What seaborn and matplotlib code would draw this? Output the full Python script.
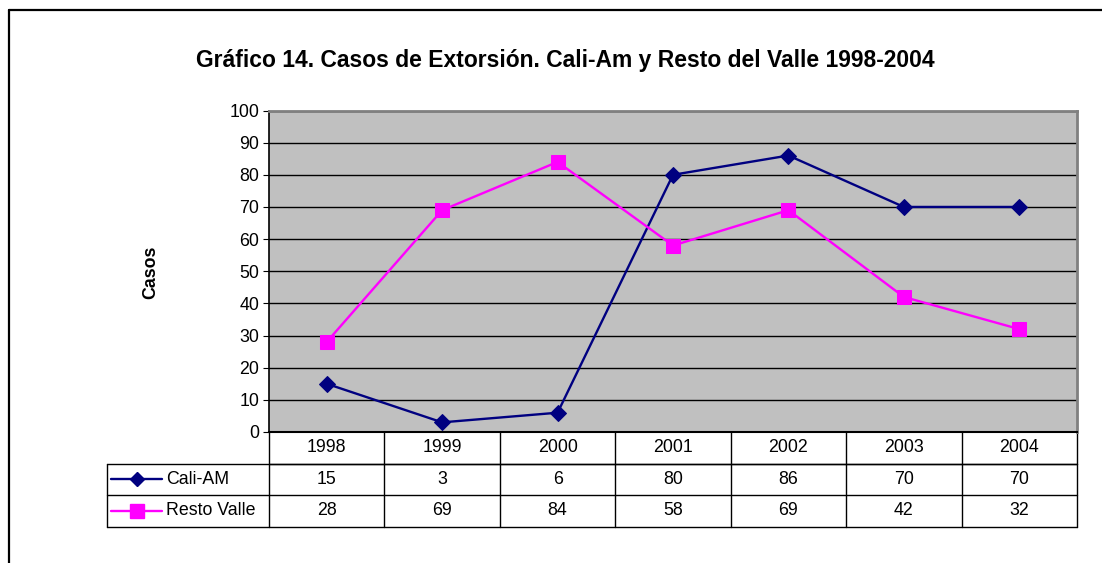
import matplotlib
matplotlib.use("Agg")
import matplotlib.pyplot as plt
import matplotlib.transforms as mtransforms
from matplotlib.lines import Line2D
import seaborn as sns
import pandas as pd

years = ["1998", "1999", "2000", "2001", "2002", "2003", "2004"]
cali_am = [15, 3, 6, 80, 86, 70, 70]
resto_valle = [28, 69, 84, 58, 69, 42, 32]
series_names = ["Cali-AM", "Resto Valle"]
title = "Gráfico 14. Casos de Extorsión. Cali-Am y Resto del Valle 1998-2004"
y_label = "Casos"

sns.set_theme(style="white")
plt.rcParams['font.family'] = ['Liberation Sans', 'DejaVu Sans']

W, H = 1102, 563
fig = plt.figure(figsize=(W / 100, H / 100), dpi=100)
fig.patch.set_facecolor("white")

FS = 12.8

# plot area in pixels
L, R, T, B = 269, 1077, 110.5, 432
ax = fig.add_axes([L / W, (H - B) / H, (R - L) / W, (B - T) / H])
ax.set_facecolor("#C0C0C0")

idx = list(range(len(years)))
df = pd.DataFrame({
    "x": idx * 2,
    "y": cali_am + resto_valle,
    "serie": [series_names[0]] * len(years) + [series_names[1]] * len(years),
})
colors = {series_names[0]: "#000080", series_names[1]: "#FF00FF"}
markers = {series_names[0]: "D", series_names[1]: "s"}
msize = {series_names[0]: 8, series_names[1]: 10.5}
for name in series_names:
    sub = df[df["serie"] == name]
    sns.lineplot(data=sub, x="x", y="y", ax=ax, color=colors[name], lw=1.7,
                 marker=markers[name], markersize=msize[name],
                 markeredgecolor=colors[name], markerfacecolor=colors[name],
                 legend=False, zorder=3)

ax.set_xlim(-0.5, len(years) - 0.5)
ax.set_ylim(0, 100)
ax.set_yticks(range(0, 101, 10))
ax.yaxis.grid(True, color="black", lw=1.0)
ax.set_axisbelow(True)
ax.set_xticks([])
ax.set_xlabel("")
ax.set_ylabel("")
ax.tick_params(axis="y", length=4, width=0.8, color="black", labelsize=FS,
               labelcolor="black", pad=3, left=True)
ax.spines["left"].set_color("black")
ax.spines["left"].set_linewidth(1.2)
ax.spines["bottom"].set_color("black")
ax.spines["bottom"].set_linewidth(1.5)
for s in ["top", "right"]:
    ax.spines[s].set_color("#808080")
    ax.spines[s].set_linewidth(2.0)

# y label
fig.text(151 / W, 1 - 272 / H, y_label, rotation=90, ha="center", va="center",
         fontsize=FS, fontweight="bold", color="black")
# title
fig.text(565 / W, 1 - 60 / H, title, ha="center", va="center",
         fontsize=16.5, fontweight="bold", color="black")

# data table
ph = B - T
row_h = 31.5 / ph
leg_left_px = 107
leg_left = (leg_left_px - L) / (R - L)
blend = mtransforms.blended_transform_factory(ax.transData, ax.transAxes)
tbl_lw = 1.0
kw = dict(clip_on=False, color="black", lw=tbl_lw)
ax.plot([-0.5, len(years) - 0.5], [-row_h, -row_h], transform=blend, **kw)
ax.plot([leg_left, 1], [-row_h, -row_h], transform=ax.transAxes, **kw)
ax.plot([leg_left, 1], [-2 * row_h, -2 * row_h], transform=ax.transAxes, **kw)
ax.plot([leg_left, 1], [-3 * row_h, -3 * row_h], transform=ax.transAxes, **kw)
for k in range(len(years) + 1):
    ax.plot([k - 0.5, k - 0.5], [0, -3 * row_h], transform=blend, **kw)
ax.plot([leg_left, leg_left], [-row_h, -3 * row_h], transform=ax.transAxes, **kw)

for k, yr in enumerate(years):
    ax.text(k, -0.5 * row_h, yr, transform=blend, ha="center", va="center",
            fontsize=FS, color="black")
for r, vals in enumerate([cali_am, resto_valle]):
    for k, v in enumerate(vals):
        ax.text(k, -(1.5 + r) * row_h, str(v), transform=blend, ha="center",
                va="center", fontsize=FS, color="black")

# legend keys in the row-label cells
for r, name in enumerate(series_names):
    yc = -(1.5 + r) * row_h
    x0 = (111 - L) / (R - L)
    x1 = (162 - L) / (R - L)
    ax.add_line(Line2D([x0, x1], [yc, yc], transform=ax.transAxes, color=colors[name],
                       lw=1.7, clip_on=False))
    ax.add_line(Line2D([(x0 + x1) / 2], [yc], transform=ax.transAxes, color=colors[name],
                       marker=markers[name], markersize=msize[name] * 0.95,
                       markerfacecolor=colors[name], markeredgecolor=colors[name],
                       lw=0, clip_on=False))
    ax.text((166 - L) / (R - L), yc, name, transform=ax.transAxes, ha="left",
            va="center", fontsize=FS, color="black")

# outer chart frame (left and top edges visible)
fig.add_artist(Line2D([9 / W, 9 / W], [0, 1 - 10 / H], transform=fig.transFigure,
                      color="black", lw=1.6))
fig.add_artist(Line2D([9 / W, 1], [1 - 10 / H, 1 - 10 / H], transform=fig.transFigure,
                      color="black", lw=1.6))

fig.savefig("out.png", dpi=100, facecolor="white")
